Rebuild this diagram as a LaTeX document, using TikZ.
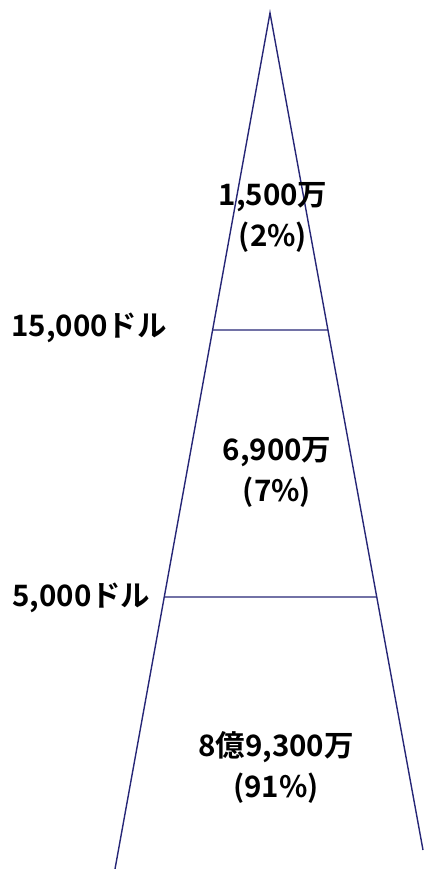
\documentclass[tikz,border=0pt]{standalone}
\usepackage{fontspec}
\setmainfont{Noto Sans CJK JP}[BoldFont={Noto Sans CJK JP Bold}]
\usetikzlibrary{calc,positioning}
\definecolor{pyramidline}{RGB}{38,38,118}

\begin{document}
\begin{tikzpicture}[
				x=1pt,y=-1pt,
				edge/.style={
					draw=pyramidline,
					line width=1.4pt
				},
				band/.style={
					draw=pyramidline,
					line width=1.1pt
				},
				share/.style={
					align=center,
					font=\fontsize{29.5}{41}\selectfont\bfseries,
					inner sep=0pt
				},
				level/.style={
					anchor=west,
					font=\fontsize{29.5}{34}\selectfont\bfseries,
					inner sep=0pt
				}
				]
				
				\useasboundingbox (0,0) rectangle (423,869);
				
				% -------------------------------------------------------------------------
				% Pyramid outline
				% -------------------------------------------------------------------------
				
				\coordinate (apex) at (270,13);
				\coordinate (lb) at (115,869);
				\coordinate (rb) at (423,850);
				
				\draw[edge] (lb) -- (apex) -- (rb);
				
				% -------------------------------------------------------------------------
				% Income bands
				% -------------------------------------------------------------------------
				
				\coordinate (hiL) at ($(apex)!0.3703!(lb)$);
				\coordinate (hiR) at ($(apex)!0.3787!(rb)$);
				\coordinate (loL) at ($(apex)!0.6822!(lb)$);
				\coordinate (loR) at ($(apex)!0.6977!(rb)$);
				
				\draw[band] (hiL) -- (hiR);
				\draw[band] (loL) -- (loR);
				
				% -------------------------------------------------------------------------
				% Thresholds and shares
				% -------------------------------------------------------------------------
				
				\node[level] (T15) at (11,328) {15,000ドル};
				\node[level] (T5) at (12,598) {5,000ドル};
				
				\node[share] (TOP) at (273,217) {1,500万\\(2\%)};
				\node[share] (MID) at (277,472) {6,900万\\(7\%)};
				\node[share] (BOT) at (276,767) {8億9,300万\\(91\%)};
				
\end{tikzpicture}
\end{document}
